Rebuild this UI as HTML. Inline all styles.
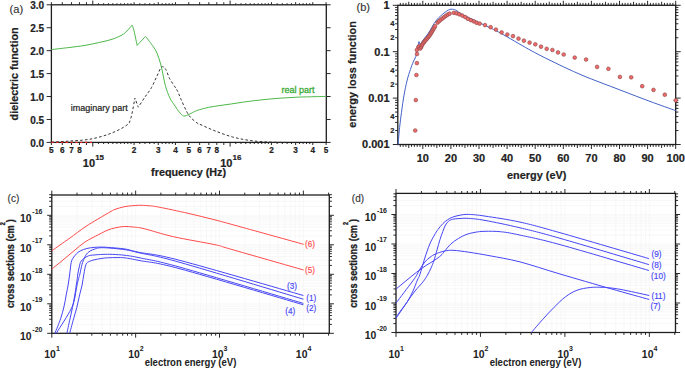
<!DOCTYPE html>
<html><head><meta charset="utf-8"><style>
html,body{margin:0;padding:0;background:#fff;overflow:hidden}
svg{display:block}
text{font-family:"Liberation Sans",sans-serif}
</style></head><body>
<svg width="685" height="369" viewBox="0 0 685 369">
<rect width="685" height="369" fill="#fff"/>
<path d="M51.4 142.4L51.4 145 M51.4 4.8L51.4 2.2 M62.28 142.4L62.28 145 M62.28 4.8L62.28 2.2 M71.47 142.4L71.47 145 M71.47 4.8L71.47 2.2 M79.44 142.4L79.44 145 M79.44 4.8L79.44 2.2 M86.46 142.4L86.46 145 M86.46 4.8L86.46 2.2 M92.75 142.4L92.75 146.6 M92.75 4.8L92.75 0.6 M134.09 142.4L134.09 145 M134.09 4.8L134.09 2.2 M158.28 142.4L158.28 145 M158.28 4.8L158.28 2.2 M175.44 142.4L175.44 145 M175.44 4.8L175.44 2.2 M188.75 142.4L188.75 145 M188.75 4.8L188.75 2.2 M199.63 142.4L199.63 145 M199.63 4.8L199.63 2.2 M208.82 142.4L208.82 145 M208.82 4.8L208.82 2.2 M216.79 142.4L216.79 145 M216.79 4.8L216.79 2.2 M223.81 142.4L223.81 145 M223.81 4.8L223.81 2.2 M98.43 142.4L98.43 144 M98.43 4.8L98.43 3.2 M103.62 142.4L103.62 144 M103.62 4.8L103.62 3.2 M108.4 142.4L108.4 144 M108.4 4.8L108.4 3.2 M112.82 142.4L112.82 144 M112.82 4.8L112.82 3.2 M116.93 142.4L116.93 144 M116.93 4.8L116.93 3.2 M120.78 142.4L120.78 144 M120.78 4.8L120.78 3.2 M124.4 142.4L124.4 144 M124.4 4.8L124.4 3.2 M127.81 142.4L127.81 144 M127.81 4.8L127.81 3.2 M131.03 142.4L131.03 144 M131.03 4.8L131.03 3.2 M139.78 142.4L139.78 144 M139.78 4.8L139.78 3.2 M144.97 142.4L144.97 144 M144.97 4.8L144.97 3.2 M149.74 142.4L149.74 144 M149.74 4.8L149.74 3.2 M154.16 142.4L154.16 144 M154.16 4.8L154.16 3.2 M162.13 142.4L162.13 144 M162.13 4.8L162.13 3.2 M165.75 142.4L165.75 144 M165.75 4.8L165.75 3.2 M169.15 142.4L169.15 144 M169.15 4.8L169.15 3.2 M172.38 142.4L172.38 144 M172.38 4.8L172.38 3.2 M230.1 142.4L230.1 146.6 M230.1 4.8L230.1 0.6 M271.44 142.4L271.44 145 M271.44 4.8L271.44 2.2 M295.63 142.4L295.63 145 M295.63 4.8L295.63 2.2 M312.79 142.4L312.79 145 M312.79 4.8L312.79 2.2 M326.1 142.4L326.1 145 M326.1 4.8L326.1 2.2 M235.78 142.4L235.78 144 M235.78 4.8L235.78 3.2 M240.97 142.4L240.97 144 M240.97 4.8L240.97 3.2 M245.75 142.4L245.75 144 M245.75 4.8L245.75 3.2 M250.17 142.4L250.17 144 M250.17 4.8L250.17 3.2 M254.28 142.4L254.28 144 M254.28 4.8L254.28 3.2 M258.13 142.4L258.13 144 M258.13 4.8L258.13 3.2 M261.75 142.4L261.75 144 M261.75 4.8L261.75 3.2 M265.16 142.4L265.16 144 M265.16 4.8L265.16 3.2 M268.38 142.4L268.38 144 M268.38 4.8L268.38 3.2 M277.13 142.4L277.13 144 M277.13 4.8L277.13 3.2 M282.32 142.4L282.32 144 M282.32 4.8L282.32 3.2 M287.09 142.4L287.09 144 M287.09 4.8L287.09 3.2 M291.51 142.4L291.51 144 M291.51 4.8L291.51 3.2 M299.48 142.4L299.48 144 M299.48 4.8L299.48 3.2 M303.1 142.4L303.1 144 M303.1 4.8L303.1 3.2 M306.5 142.4L306.5 144 M306.5 4.8L306.5 3.2 M309.73 142.4L309.73 144 M309.73 4.8L309.73 3.2 M46.6 142.4L51.4 142.4 M326.3 142.4L330.6 142.4 M46.6 119.47L51.4 119.47 M326.3 119.47L330.6 119.47 M46.6 96.53L51.4 96.53 M326.3 96.53L330.6 96.53 M46.6 73.6L51.4 73.6 M326.3 73.6L330.6 73.6 M46.6 50.66L51.4 50.66 M326.3 50.66L330.6 50.66 M46.6 27.73L51.4 27.73 M326.3 27.73L330.6 27.73 M46.6 4.79L51.4 4.79 M326.3 4.79L330.6 4.79" stroke="#2a2a2a" stroke-width="1" fill="none"/>
<text x="44.2" y="146.9" font-size="10" font-weight="bold" text-anchor="end" fill="#222" stroke="#222" stroke-width="0.2">0.0</text>
<text x="44.2" y="123.97" font-size="10" font-weight="bold" text-anchor="end" fill="#222" stroke="#222" stroke-width="0.2">0.5</text>
<text x="44.2" y="101.03" font-size="10" font-weight="bold" text-anchor="end" fill="#222" stroke="#222" stroke-width="0.2">1.0</text>
<text x="44.2" y="78.1" font-size="10" font-weight="bold" text-anchor="end" fill="#222" stroke="#222" stroke-width="0.2">1.5</text>
<text x="44.2" y="55.16" font-size="10" font-weight="bold" text-anchor="end" fill="#222" stroke="#222" stroke-width="0.2">2.0</text>
<text x="44.2" y="32.23" font-size="10" font-weight="bold" text-anchor="end" fill="#222" stroke="#222" stroke-width="0.2">2.5</text>
<text x="44.2" y="9.29" font-size="10" font-weight="bold" text-anchor="end" fill="#222" stroke="#222" stroke-width="0.2">3.0</text>
<rect x="51.4" y="4.8" width="274.9" height="137.6" fill="none" stroke="#1e1e1e" stroke-width="1.3"/>
<text x="51.4" y="152.9" font-size="8.2" font-weight="bold" text-anchor="middle" fill="#222" stroke="#222" stroke-width="0.2">5</text>
<text x="62.28" y="152.9" font-size="8.2" font-weight="bold" text-anchor="middle" fill="#222" stroke="#222" stroke-width="0.2">6</text>
<text x="71.47" y="152.9" font-size="8.2" font-weight="bold" text-anchor="middle" fill="#222" stroke="#222" stroke-width="0.2">7</text>
<text x="79.44" y="152.9" font-size="8.2" font-weight="bold" text-anchor="middle" fill="#222" stroke="#222" stroke-width="0.2">8</text>
<text x="134.09" y="152.9" font-size="8.2" font-weight="bold" text-anchor="middle" fill="#222" stroke="#222" stroke-width="0.2">2</text>
<text x="158.28" y="152.9" font-size="8.2" font-weight="bold" text-anchor="middle" fill="#222" stroke="#222" stroke-width="0.2">3</text>
<text x="175.44" y="152.9" font-size="8.2" font-weight="bold" text-anchor="middle" fill="#222" stroke="#222" stroke-width="0.2">4</text>
<text x="188.75" y="152.9" font-size="8.2" font-weight="bold" text-anchor="middle" fill="#222" stroke="#222" stroke-width="0.2">5</text>
<text x="199.63" y="152.9" font-size="8.2" font-weight="bold" text-anchor="middle" fill="#222" stroke="#222" stroke-width="0.2">6</text>
<text x="208.82" y="152.9" font-size="8.2" font-weight="bold" text-anchor="middle" fill="#222" stroke="#222" stroke-width="0.2">7</text>
<text x="216.79" y="152.9" font-size="8.2" font-weight="bold" text-anchor="middle" fill="#222" stroke="#222" stroke-width="0.2">8</text>
<text x="271.44" y="152.9" font-size="8.2" font-weight="bold" text-anchor="middle" fill="#222" stroke="#222" stroke-width="0.2">2</text>
<text x="295.63" y="152.9" font-size="8.2" font-weight="bold" text-anchor="middle" fill="#222" stroke="#222" stroke-width="0.2">3</text>
<text x="312.79" y="152.9" font-size="8.2" font-weight="bold" text-anchor="middle" fill="#222" stroke="#222" stroke-width="0.2">4</text>
<text x="326.1" y="152.9" font-size="8.2" font-weight="bold" text-anchor="middle" fill="#222" stroke="#222" stroke-width="0.2">5</text>
<text x="82.85" y="166.7" font-size="11" font-weight="bold" text-anchor="start" fill="#222" stroke="#222" stroke-width="0.2">10</text>
<text x="95.15" y="159.9" font-size="8" font-weight="bold" text-anchor="start" fill="#222" stroke="#222" stroke-width="0.2">15</text>
<text x="220.2" y="166.7" font-size="11" font-weight="bold" text-anchor="start" fill="#222" stroke="#222" stroke-width="0.2">10</text>
<text x="232.5" y="159.9" font-size="8" font-weight="bold" text-anchor="start" fill="#222" stroke="#222" stroke-width="0.2">16</text>
<text x="188.6" y="175.8" font-size="10.8" font-weight="bold" text-anchor="middle" fill="#222" stroke="#222" stroke-width="0.2">frequency (Hz)</text>
<text x="0" y="0" font-size="10.8" font-weight="bold" text-anchor="middle" fill="#222" transform="translate(17.7 73.9) rotate(-90)" stroke="#222" stroke-width="0.2">dielectric function</text>
<text x="9.6" y="12.5" font-size="11.2" text-anchor="start" fill="#333" stroke="#333" stroke-width="0.15">(a)</text>
<path d="M51.4 49.6 C54.5 49.23 64.4 48.1 70 47.4 C75.6 46.7 80.07 46.23 85 45.4 C89.93 44.57 95.1 43.42 99.6 42.4 C104.1 41.38 108.27 40.53 112 39.3 C115.73 38.07 119.52 36.38 122 35 C124.48 33.62 125.6 32.2 126.9 31 C128.2 29.8 128.92 28.78 129.8 27.8 C130.68 26.82 132.2 25.1 132.2 25.1 C132.2 25.1 133.28 27.72 134.1 31.1 C134.92 34.48 137.1 45.4 137.1 45.4 C137.1 45.4 145.5 36.4 145.5 36.4 C145.5 36.4 149.17 40.9 151 43.5 C152.83 46.1 154.8 48.22 156.5 52 C158.2 55.78 159.73 60.65 161.2 66.2 C162.67 71.75 163.85 80 165.3 85.3 C166.75 90.6 168.28 94.55 169.9 98 C171.52 101.45 173.47 103.7 175 106 C176.53 108.3 177.65 110.13 179.1 111.8 C180.55 113.47 181.97 115.62 183.7 116 C185.43 116.38 187.33 115 189.5 114.1 C191.67 113.2 193.55 111.72 196.7 110.6 C199.85 109.48 204.52 108.25 208.4 107.4 C212.28 106.55 216.12 106.08 220 105.5 C223.88 104.92 227.8 104.47 231.7 103.9 C235.6 103.33 239.5 102.65 243.4 102.1 C247.3 101.55 251.33 101.05 255.1 100.6 C258.87 100.15 262.37 99.77 266 99.4 C269.63 99.03 273.25 98.68 276.9 98.4 C280.55 98.12 284.25 97.92 287.9 97.7 C291.55 97.48 295.15 97.25 298.8 97.1 C302.45 96.95 305.22 96.92 309.8 96.8 C314.38 96.68 323.55 96.47 326.3 96.4" fill="none" stroke="#4db84a" stroke-width="1" />
<path d="M51.4 142.2 C54.5 142 63.57 141.5 70 141 C76.43 140.5 83.33 140.42 90 139.2 C96.67 137.98 103.98 135.97 110 133.7 C116.02 131.43 122.65 128.1 126.1 125.6 C129.55 123.1 129.23 123.3 130.7 118.7 C132.17 114.1 134.9 98 134.9 98 C134.9 98 138.3 107.2 138.3 107.2 C138.3 107.2 142.8 100.27 145 97 C147.2 93.73 149.5 91.1 151.5 87.6 C153.5 84.1 155.32 79.43 157 76 C158.68 72.57 160.15 68.12 161.6 67 C163.05 65.88 164.38 67.42 165.7 69.3 C167.02 71.18 167.97 75.38 169.5 78.3 C171.03 81.22 173.55 84.65 174.9 86.8 C176.25 88.95 176.58 89.12 177.6 91.2 C178.62 93.28 179.52 95.97 181 99.3 C182.48 102.63 184.92 108.2 186.5 111.2 C188.08 114.2 188.67 115.28 190.5 117.3 C192.33 119.32 195.75 122.05 197.5 123.3 C199.25 124.55 198.08 123.53 201 124.8 C203.92 126.07 209.73 128.87 215 130.9 C220.27 132.93 226.75 135.4 232.6 137 C238.45 138.6 244.27 139.67 250.1 140.5 C255.93 141.33 261.78 141.68 267.6 142 C273.42 142.32 282.1 142.33 285 142.4" fill="none" stroke="#333" stroke-width="1" stroke-dasharray="2.6 2.2"/>
<line x1="51.4" y1="142.3" x2="92.5" y2="142.3" stroke="#ee2222" stroke-width="1.3" stroke-dasharray="2.2 2.6"/>
<text x="281.5" y="92.6" font-size="9" text-anchor="start" fill="#3aaa35" stroke="#3aaa35" stroke-width="0.3">real part</text>
<text x="70.7" y="111.1" font-size="9" text-anchor="start" fill="#222" stroke="#222" stroke-width="0.2">imaginary part</text>
<path d="M400.32 144.5L400.32 146.9 M400.32 5.3L400.32 2.9 M403.13 144.5L403.13 146.9 M403.13 5.3L403.13 2.9 M405.94 144.5L405.94 146.9 M405.94 5.3L405.94 2.9 M408.75 144.5L408.75 148 M408.75 5.3L408.75 1.8 M411.56 144.5L411.56 146.9 M411.56 5.3L411.56 2.9 M414.37 144.5L414.37 146.9 M414.37 5.3L414.37 2.9 M417.18 144.5L417.18 146.9 M417.18 5.3L417.18 2.9 M419.99 144.5L419.99 146.9 M419.99 5.3L419.99 2.9 M422.8 144.5L422.8 149 M422.8 5.3L422.8 0.8 M425.61 144.5L425.61 146.9 M425.61 5.3L425.61 2.9 M428.42 144.5L428.42 146.9 M428.42 5.3L428.42 2.9 M431.23 144.5L431.23 146.9 M431.23 5.3L431.23 2.9 M434.04 144.5L434.04 146.9 M434.04 5.3L434.04 2.9 M436.85 144.5L436.85 148 M436.85 5.3L436.85 1.8 M439.66 144.5L439.66 146.9 M439.66 5.3L439.66 2.9 M442.47 144.5L442.47 146.9 M442.47 5.3L442.47 2.9 M445.28 144.5L445.28 146.9 M445.28 5.3L445.28 2.9 M448.09 144.5L448.09 146.9 M448.09 5.3L448.09 2.9 M450.9 144.5L450.9 149 M450.9 5.3L450.9 0.8 M453.71 144.5L453.71 146.9 M453.71 5.3L453.71 2.9 M456.52 144.5L456.52 146.9 M456.52 5.3L456.52 2.9 M459.33 144.5L459.33 146.9 M459.33 5.3L459.33 2.9 M462.14 144.5L462.14 146.9 M462.14 5.3L462.14 2.9 M464.95 144.5L464.95 148 M464.95 5.3L464.95 1.8 M467.76 144.5L467.76 146.9 M467.76 5.3L467.76 2.9 M470.57 144.5L470.57 146.9 M470.57 5.3L470.57 2.9 M473.38 144.5L473.38 146.9 M473.38 5.3L473.38 2.9 M476.19 144.5L476.19 146.9 M476.19 5.3L476.19 2.9 M479 144.5L479 149 M479 5.3L479 0.8 M481.81 144.5L481.81 146.9 M481.81 5.3L481.81 2.9 M484.62 144.5L484.62 146.9 M484.62 5.3L484.62 2.9 M487.43 144.5L487.43 146.9 M487.43 5.3L487.43 2.9 M490.24 144.5L490.24 146.9 M490.24 5.3L490.24 2.9 M493.05 144.5L493.05 148 M493.05 5.3L493.05 1.8 M495.86 144.5L495.86 146.9 M495.86 5.3L495.86 2.9 M498.67 144.5L498.67 146.9 M498.67 5.3L498.67 2.9 M501.48 144.5L501.48 146.9 M501.48 5.3L501.48 2.9 M504.29 144.5L504.29 146.9 M504.29 5.3L504.29 2.9 M507.1 144.5L507.1 149 M507.1 5.3L507.1 0.8 M509.91 144.5L509.91 146.9 M509.91 5.3L509.91 2.9 M512.72 144.5L512.72 146.9 M512.72 5.3L512.72 2.9 M515.53 144.5L515.53 146.9 M515.53 5.3L515.53 2.9 M518.34 144.5L518.34 146.9 M518.34 5.3L518.34 2.9 M521.15 144.5L521.15 148 M521.15 5.3L521.15 1.8 M523.96 144.5L523.96 146.9 M523.96 5.3L523.96 2.9 M526.77 144.5L526.77 146.9 M526.77 5.3L526.77 2.9 M529.58 144.5L529.58 146.9 M529.58 5.3L529.58 2.9 M532.39 144.5L532.39 146.9 M532.39 5.3L532.39 2.9 M535.2 144.5L535.2 149 M535.2 5.3L535.2 0.8 M538.01 144.5L538.01 146.9 M538.01 5.3L538.01 2.9 M540.82 144.5L540.82 146.9 M540.82 5.3L540.82 2.9 M543.63 144.5L543.63 146.9 M543.63 5.3L543.63 2.9 M546.44 144.5L546.44 146.9 M546.44 5.3L546.44 2.9 M549.25 144.5L549.25 148 M549.25 5.3L549.25 1.8 M552.06 144.5L552.06 146.9 M552.06 5.3L552.06 2.9 M554.87 144.5L554.87 146.9 M554.87 5.3L554.87 2.9 M557.68 144.5L557.68 146.9 M557.68 5.3L557.68 2.9 M560.49 144.5L560.49 146.9 M560.49 5.3L560.49 2.9 M563.3 144.5L563.3 149 M563.3 5.3L563.3 0.8 M566.11 144.5L566.11 146.9 M566.11 5.3L566.11 2.9 M568.92 144.5L568.92 146.9 M568.92 5.3L568.92 2.9 M571.73 144.5L571.73 146.9 M571.73 5.3L571.73 2.9 M574.54 144.5L574.54 146.9 M574.54 5.3L574.54 2.9 M577.35 144.5L577.35 148 M577.35 5.3L577.35 1.8 M580.16 144.5L580.16 146.9 M580.16 5.3L580.16 2.9 M582.97 144.5L582.97 146.9 M582.97 5.3L582.97 2.9 M585.78 144.5L585.78 146.9 M585.78 5.3L585.78 2.9 M588.59 144.5L588.59 146.9 M588.59 5.3L588.59 2.9 M591.4 144.5L591.4 149 M591.4 5.3L591.4 0.8 M594.21 144.5L594.21 146.9 M594.21 5.3L594.21 2.9 M597.02 144.5L597.02 146.9 M597.02 5.3L597.02 2.9 M599.83 144.5L599.83 146.9 M599.83 5.3L599.83 2.9 M602.64 144.5L602.64 146.9 M602.64 5.3L602.64 2.9 M605.45 144.5L605.45 148 M605.45 5.3L605.45 1.8 M608.26 144.5L608.26 146.9 M608.26 5.3L608.26 2.9 M611.07 144.5L611.07 146.9 M611.07 5.3L611.07 2.9 M613.88 144.5L613.88 146.9 M613.88 5.3L613.88 2.9 M616.69 144.5L616.69 146.9 M616.69 5.3L616.69 2.9 M619.5 144.5L619.5 149 M619.5 5.3L619.5 0.8 M622.31 144.5L622.31 146.9 M622.31 5.3L622.31 2.9 M625.12 144.5L625.12 146.9 M625.12 5.3L625.12 2.9 M627.93 144.5L627.93 146.9 M627.93 5.3L627.93 2.9 M630.74 144.5L630.74 146.9 M630.74 5.3L630.74 2.9 M633.55 144.5L633.55 148 M633.55 5.3L633.55 1.8 M636.36 144.5L636.36 146.9 M636.36 5.3L636.36 2.9 M639.17 144.5L639.17 146.9 M639.17 5.3L639.17 2.9 M641.98 144.5L641.98 146.9 M641.98 5.3L641.98 2.9 M644.79 144.5L644.79 146.9 M644.79 5.3L644.79 2.9 M647.6 144.5L647.6 149 M647.6 5.3L647.6 0.8 M650.41 144.5L650.41 146.9 M650.41 5.3L650.41 2.9 M653.22 144.5L653.22 146.9 M653.22 5.3L653.22 2.9 M656.03 144.5L656.03 146.9 M656.03 5.3L656.03 2.9 M658.84 144.5L658.84 146.9 M658.84 5.3L658.84 2.9 M661.65 144.5L661.65 148 M661.65 5.3L661.65 1.8 M664.46 144.5L664.46 146.9 M664.46 5.3L664.46 2.9 M667.27 144.5L667.27 146.9 M667.27 5.3L667.27 2.9 M670.08 144.5L670.08 146.9 M670.08 5.3L670.08 2.9 M672.89 144.5L672.89 146.9 M672.89 5.3L672.89 2.9 M675.7 144.5L675.7 149 M675.7 5.3L675.7 0.8 M392.8 144.5L397.8 144.5 M675.7 144.5L680.7 144.5 M395.1 130.53L397.8 130.53 M675.7 130.53L678.4 130.53 M395.1 122.36L397.8 122.36 M675.7 122.36L678.4 122.36 M395.1 116.56L397.8 116.56 M675.7 116.56L678.4 116.56 M395.1 112.07L397.8 112.07 M675.7 112.07L678.4 112.07 M395.1 108.39L397.8 108.39 M675.7 108.39L678.4 108.39 M395.1 105.29L397.8 105.29 M675.7 105.29L678.4 105.29 M395.1 102.6L397.8 102.6 M675.7 102.6L678.4 102.6 M395.1 100.22L397.8 100.22 M675.7 100.22L678.4 100.22 M392.8 98.1L397.8 98.1 M675.7 98.1L680.7 98.1 M395.1 84.13L397.8 84.13 M675.7 84.13L678.4 84.13 M395.1 75.96L397.8 75.96 M675.7 75.96L678.4 75.96 M395.1 70.16L397.8 70.16 M675.7 70.16L678.4 70.16 M395.1 65.67L397.8 65.67 M675.7 65.67L678.4 65.67 M395.1 61.99L397.8 61.99 M675.7 61.99L678.4 61.99 M395.1 58.89L397.8 58.89 M675.7 58.89L678.4 58.89 M395.1 56.2L397.8 56.2 M675.7 56.2L678.4 56.2 M395.1 53.82L397.8 53.82 M675.7 53.82L678.4 53.82 M392.8 51.7L397.8 51.7 M675.7 51.7L680.7 51.7 M395.1 37.73L397.8 37.73 M675.7 37.73L678.4 37.73 M395.1 29.56L397.8 29.56 M675.7 29.56L678.4 29.56 M395.1 23.76L397.8 23.76 M675.7 23.76L678.4 23.76 M395.1 19.27L397.8 19.27 M675.7 19.27L678.4 19.27 M395.1 15.59L397.8 15.59 M675.7 15.59L678.4 15.59 M395.1 12.49L397.8 12.49 M675.7 12.49L678.4 12.49 M395.1 9.8L397.8 9.8 M675.7 9.8L678.4 9.8 M395.1 7.42L397.8 7.42 M675.7 7.42L678.4 7.42 M392.8 5.3L397.8 5.3 M675.7 5.3L680.7 5.3" stroke="#2a2a2a" stroke-width="1" fill="none"/>
<rect x="397.8" y="5.3" width="277.9" height="139.2" fill="none" stroke="#1e1e1e" stroke-width="1.3"/>
<text x="389.6" y="9.2" font-size="11" font-weight="bold" text-anchor="end" fill="#222" stroke="#222" stroke-width="0.2">1</text>
<text x="389.6" y="55.6" font-size="11" font-weight="bold" text-anchor="end" fill="#222" stroke="#222" stroke-width="0.2">0.1</text>
<text x="389.6" y="102" font-size="11" font-weight="bold" text-anchor="end" fill="#222" stroke="#222" stroke-width="0.2">0.01</text>
<text x="389.6" y="148.4" font-size="11" font-weight="bold" text-anchor="end" fill="#222" stroke="#222" stroke-width="0.2">0.001</text>
<text x="394.4" y="133.23" font-size="7.5" font-weight="bold" text-anchor="end" fill="#222" stroke="#222" stroke-width="0.2">2</text>
<text x="394.4" y="119.26" font-size="7.5" font-weight="bold" text-anchor="end" fill="#222" stroke="#222" stroke-width="0.2">4</text>
<text x="394.4" y="86.83" font-size="7.5" font-weight="bold" text-anchor="end" fill="#222" stroke="#222" stroke-width="0.2">2</text>
<text x="394.4" y="72.86" font-size="7.5" font-weight="bold" text-anchor="end" fill="#222" stroke="#222" stroke-width="0.2">4</text>
<text x="394.4" y="40.43" font-size="7.5" font-weight="bold" text-anchor="end" fill="#222" stroke="#222" stroke-width="0.2">2</text>
<text x="394.4" y="26.46" font-size="7.5" font-weight="bold" text-anchor="end" fill="#222" stroke="#222" stroke-width="0.2">4</text>
<text x="422.8" y="161.9" font-size="11" font-weight="bold" text-anchor="middle" fill="#222" stroke="#222" stroke-width="0.2">10</text>
<text x="450.9" y="161.9" font-size="11" font-weight="bold" text-anchor="middle" fill="#222" stroke="#222" stroke-width="0.2">20</text>
<text x="479" y="161.9" font-size="11" font-weight="bold" text-anchor="middle" fill="#222" stroke="#222" stroke-width="0.2">30</text>
<text x="507.1" y="161.9" font-size="11" font-weight="bold" text-anchor="middle" fill="#222" stroke="#222" stroke-width="0.2">40</text>
<text x="535.2" y="161.9" font-size="11" font-weight="bold" text-anchor="middle" fill="#222" stroke="#222" stroke-width="0.2">50</text>
<text x="563.3" y="161.9" font-size="11" font-weight="bold" text-anchor="middle" fill="#222" stroke="#222" stroke-width="0.2">60</text>
<text x="591.4" y="161.9" font-size="11" font-weight="bold" text-anchor="middle" fill="#222" stroke="#222" stroke-width="0.2">70</text>
<text x="619.5" y="161.9" font-size="11" font-weight="bold" text-anchor="middle" fill="#222" stroke="#222" stroke-width="0.2">80</text>
<text x="647.6" y="161.9" font-size="11" font-weight="bold" text-anchor="middle" fill="#222" stroke="#222" stroke-width="0.2">90</text>
<text x="675.7" y="161.9" font-size="11" font-weight="bold" text-anchor="middle" fill="#222" stroke="#222" stroke-width="0.2">100</text>
<text x="536.7" y="179.2" font-size="10.9" font-weight="bold" text-anchor="middle" fill="#222" stroke="#222" stroke-width="0.2">energy (eV)</text>
<text x="0" y="0" font-size="10.9" font-weight="bold" text-anchor="middle" fill="#222" transform="translate(355.6 74.4) rotate(-90)" stroke="#222" stroke-width="0.2">energy loss function</text>
<text x="356.6" y="10.6" font-size="11" text-anchor="start" fill="#333" stroke="#333" stroke-width="0.15">(b)</text>
<path d="M398.1 144.6 C398.35 141.75 399.03 132.88 399.6 127.5 C400.17 122.12 400.77 117.68 401.5 112.3 C402.23 106.92 403.05 100.58 404 95.2 C404.95 89.82 406.13 84.28 407.2 80 C408.27 75.72 409.4 72.5 410.4 69.5 C411.4 66.5 412.3 64.17 413.2 62 C414.1 59.83 415.1 58.5 415.8 56.5 C416.5 54.5 416.88 52.45 417.4 50 C417.92 47.55 418.4 42.75 418.9 41.8 C419.4 40.85 419.8 44.43 420.4 44.3 C421 44.17 421.65 42.22 422.5 41 C423.35 39.78 424.5 38.33 425.5 37 C426.5 35.67 427.5 34.5 428.5 33 C429.5 31.5 430.58 29.58 431.5 28 C432.42 26.42 433.08 24.92 434 23.5 C434.92 22.08 435.92 20.75 437 19.5 C438.08 18.25 439.17 17.2 440.5 16 C441.83 14.8 443.67 13.3 445 12.3 C446.33 11.3 447.48 10.52 448.5 10 C449.52 9.48 450.27 9.3 451.1 9.2 C451.93 9.1 452.68 9.22 453.5 9.4 C454.32 9.58 454.5 9.43 456 10.3 C457.5 11.17 459.62 13.02 462.5 14.6 C465.38 16.18 470.6 18.5 473.3 19.8 C476 21.1 475.92 21.07 478.7 22.4 C481.48 23.73 486.27 25.97 490 27.8 C493.73 29.63 494.63 29.82 501.1 33.4 C507.57 36.98 520.65 44.82 528.8 49.3 C536.95 53.78 541.13 55.98 550 60.3 C558.87 64.62 570.35 70.27 582 75.2 C593.65 80.13 608.57 85.53 619.9 89.9 C631.23 94.27 640.7 97.95 650 101.4 C659.3 104.85 671.42 109.07 675.7 110.6" fill="none" stroke="#4262c8" stroke-width="1" />
<circle cx="415.2" cy="130.5" r="1.85" fill="#f26a6a" stroke="#8c4a4a" stroke-width="0.65"/>
<circle cx="415.8" cy="100.1" r="1.85" fill="#f26a6a" stroke="#8c4a4a" stroke-width="0.65"/>
<circle cx="416.4" cy="75" r="1.85" fill="#f26a6a" stroke="#8c4a4a" stroke-width="0.65"/>
<circle cx="416.9" cy="63.1" r="1.85" fill="#f26a6a" stroke="#8c4a4a" stroke-width="0.65"/>
<circle cx="417" cy="54" r="1.85" fill="#f26a6a" stroke="#8c4a4a" stroke-width="0.65"/>
<circle cx="416.8" cy="50" r="1.85" fill="#f26a6a" stroke="#8c4a4a" stroke-width="0.65"/>
<circle cx="418.3" cy="47.2" r="1.85" fill="#f26a6a" stroke="#8c4a4a" stroke-width="0.65"/>
<circle cx="419.3" cy="46.2" r="1.85" fill="#f26a6a" stroke="#8c4a4a" stroke-width="0.65"/>
<circle cx="420.2" cy="48.6" r="1.85" fill="#f26a6a" stroke="#8c4a4a" stroke-width="0.65"/>
<circle cx="421.2" cy="47" r="1.85" fill="#f26a6a" stroke="#8c4a4a" stroke-width="0.65"/>
<circle cx="421.6" cy="45.5" r="1.85" fill="#f26a6a" stroke="#8c4a4a" stroke-width="0.65"/>
<circle cx="422.3" cy="44.5" r="1.85" fill="#f26a6a" stroke="#8c4a4a" stroke-width="0.65"/>
<circle cx="423.24" cy="43.21" r="1.85" fill="#f26a6a" stroke="#8c4a4a" stroke-width="0.65"/>
<circle cx="424.18" cy="41.91" r="1.85" fill="#f26a6a" stroke="#8c4a4a" stroke-width="0.65"/>
<circle cx="425.18" cy="40.66" r="1.85" fill="#f26a6a" stroke="#8c4a4a" stroke-width="0.65"/>
<circle cx="426.24" cy="39.47" r="1.85" fill="#f26a6a" stroke="#8c4a4a" stroke-width="0.65"/>
<circle cx="427.31" cy="38.27" r="1.85" fill="#f26a6a" stroke="#8c4a4a" stroke-width="0.65"/>
<circle cx="428.33" cy="37.04" r="1.85" fill="#f26a6a" stroke="#8c4a4a" stroke-width="0.65"/>
<circle cx="429.33" cy="35.8" r="1.85" fill="#f26a6a" stroke="#8c4a4a" stroke-width="0.65"/>
<circle cx="430.19" cy="34.45" r="1.85" fill="#f26a6a" stroke="#8c4a4a" stroke-width="0.65"/>
<circle cx="431.05" cy="33.1" r="1.85" fill="#f26a6a" stroke="#8c4a4a" stroke-width="0.65"/>
<circle cx="431.88" cy="31.73" r="1.85" fill="#f26a6a" stroke="#8c4a4a" stroke-width="0.65"/>
<circle cx="432.69" cy="30.35" r="1.85" fill="#f26a6a" stroke="#8c4a4a" stroke-width="0.65"/>
<circle cx="433.47" cy="28.95" r="1.85" fill="#f26a6a" stroke="#8c4a4a" stroke-width="0.65"/>
<circle cx="434.25" cy="27.56" r="1.85" fill="#f26a6a" stroke="#8c4a4a" stroke-width="0.65"/>
<circle cx="435.09" cy="26.19" r="1.85" fill="#f26a6a" stroke="#8c4a4a" stroke-width="0.65"/>
<circle cx="437.6" cy="22.6" r="1.85" fill="#f26a6a" stroke="#8c4a4a" stroke-width="0.65"/>
<circle cx="439.15" cy="21.11" r="1.85" fill="#f26a6a" stroke="#8c4a4a" stroke-width="0.65"/>
<circle cx="440.75" cy="19.68" r="1.85" fill="#f26a6a" stroke="#8c4a4a" stroke-width="0.65"/>
<circle cx="442.48" cy="18.41" r="1.85" fill="#f26a6a" stroke="#8c4a4a" stroke-width="0.65"/>
<circle cx="444.2" cy="17.11" r="1.85" fill="#f26a6a" stroke="#8c4a4a" stroke-width="0.65"/>
<circle cx="445.93" cy="15.83" r="1.85" fill="#f26a6a" stroke="#8c4a4a" stroke-width="0.65"/>
<circle cx="447.7" cy="14.63" r="1.85" fill="#f26a6a" stroke="#8c4a4a" stroke-width="0.65"/>
<circle cx="449.59" cy="13.63" r="1.85" fill="#f26a6a" stroke="#8c4a4a" stroke-width="0.65"/>
<circle cx="453.8" cy="12.8" r="1.85" fill="#f26a6a" stroke="#8c4a4a" stroke-width="0.65"/>
<circle cx="456.5" cy="13.3" r="1.85" fill="#f26a6a" stroke="#8c4a4a" stroke-width="0.65"/>
<circle cx="459.2" cy="14.3" r="1.85" fill="#f26a6a" stroke="#8c4a4a" stroke-width="0.65"/>
<circle cx="462.3" cy="15.6" r="1.85" fill="#f26a6a" stroke="#8c4a4a" stroke-width="0.65"/>
<circle cx="465.2" cy="17.1" r="1.85" fill="#f26a6a" stroke="#8c4a4a" stroke-width="0.65"/>
<circle cx="467.9" cy="18.8" r="1.85" fill="#f26a6a" stroke="#8c4a4a" stroke-width="0.65"/>
<circle cx="470.9" cy="20.2" r="1.85" fill="#f26a6a" stroke="#8c4a4a" stroke-width="0.65"/>
<circle cx="473.9" cy="21.4" r="1.85" fill="#f26a6a" stroke="#8c4a4a" stroke-width="0.65"/>
<circle cx="476.6" cy="22.8" r="1.85" fill="#f26a6a" stroke="#8c4a4a" stroke-width="0.65"/>
<circle cx="479.6" cy="23.6" r="1.85" fill="#f26a6a" stroke="#8c4a4a" stroke-width="0.65"/>
<circle cx="485" cy="25.1" r="1.85" fill="#f26a6a" stroke="#8c4a4a" stroke-width="0.65"/>
<circle cx="490.6" cy="27.2" r="1.85" fill="#f26a6a" stroke="#8c4a4a" stroke-width="0.65"/>
<circle cx="495.9" cy="29.6" r="1.85" fill="#f26a6a" stroke="#8c4a4a" stroke-width="0.65"/>
<circle cx="501.6" cy="32.4" r="1.85" fill="#f26a6a" stroke="#8c4a4a" stroke-width="0.65"/>
<circle cx="507.3" cy="34.5" r="1.85" fill="#f26a6a" stroke="#8c4a4a" stroke-width="0.65"/>
<circle cx="513" cy="36.1" r="1.85" fill="#f26a6a" stroke="#8c4a4a" stroke-width="0.65"/>
<circle cx="518.5" cy="38.6" r="1.85" fill="#f26a6a" stroke="#8c4a4a" stroke-width="0.65"/>
<circle cx="523.9" cy="40.7" r="1.85" fill="#f26a6a" stroke="#8c4a4a" stroke-width="0.65"/>
<circle cx="529.6" cy="42.6" r="1.85" fill="#f26a6a" stroke="#8c4a4a" stroke-width="0.65"/>
<circle cx="535.3" cy="44.3" r="1.85" fill="#f26a6a" stroke="#8c4a4a" stroke-width="0.65"/>
<circle cx="541" cy="46.7" r="1.85" fill="#f26a6a" stroke="#8c4a4a" stroke-width="0.65"/>
<circle cx="546.7" cy="48.8" r="1.85" fill="#f26a6a" stroke="#8c4a4a" stroke-width="0.65"/>
<circle cx="552.4" cy="50" r="1.85" fill="#f26a6a" stroke="#8c4a4a" stroke-width="0.65"/>
<circle cx="558" cy="52.4" r="1.85" fill="#f26a6a" stroke="#8c4a4a" stroke-width="0.65"/>
<circle cx="563.7" cy="54.5" r="1.85" fill="#f26a6a" stroke="#8c4a4a" stroke-width="0.65"/>
<circle cx="574.7" cy="57.6" r="1.85" fill="#f26a6a" stroke="#8c4a4a" stroke-width="0.65"/>
<circle cx="586.1" cy="59.5" r="1.85" fill="#f26a6a" stroke="#8c4a4a" stroke-width="0.65"/>
<circle cx="597.1" cy="66.9" r="1.85" fill="#f26a6a" stroke="#8c4a4a" stroke-width="0.65"/>
<circle cx="608.4" cy="68.8" r="1.85" fill="#f26a6a" stroke="#8c4a4a" stroke-width="0.65"/>
<circle cx="619.9" cy="76.9" r="1.85" fill="#f26a6a" stroke="#8c4a4a" stroke-width="0.65"/>
<circle cx="631.2" cy="77.3" r="1.85" fill="#f26a6a" stroke="#8c4a4a" stroke-width="0.65"/>
<circle cx="642.2" cy="86.2" r="1.85" fill="#f26a6a" stroke="#8c4a4a" stroke-width="0.65"/>
<circle cx="653.5" cy="89.9" r="1.85" fill="#f26a6a" stroke="#8c4a4a" stroke-width="0.65"/>
<circle cx="664.8" cy="94.7" r="1.85" fill="#f26a6a" stroke="#8c4a4a" stroke-width="0.65"/>
<circle cx="675.7" cy="100.3" r="1.85" fill="#f26a6a" stroke="#8c4a4a" stroke-width="0.65"/>
<path d="M77.04 195V333.3 M91.81 195V333.3 M102.28 195V333.3 M110.41 195V333.3 M117.05 195V333.3 M122.66 195V333.3 M127.52 195V333.3 M131.81 195V333.3 M135.65 195V333.3 M160.89 195V333.3 M175.66 195V333.3 M186.13 195V333.3 M194.26 195V333.3 M200.9 195V333.3 M206.51 195V333.3 M211.37 195V333.3 M215.66 195V333.3 M219.5 195V333.3 M244.74 195V333.3 M259.51 195V333.3 M269.98 195V333.3 M278.11 195V333.3 M284.75 195V333.3 M290.36 195V333.3 M295.22 195V333.3 M299.51 195V333.3 M303.35 195V333.3 M328.59 195V333.3 M51.8 324.42H329.3 M51.8 319.22H329.3 M51.8 315.54H329.3 M51.8 312.68H329.3 M51.8 310.34H329.3 M51.8 308.37H329.3 M51.8 306.66H329.3 M51.8 305.15H329.3 M51.8 303.8H329.3 M51.8 294.92H329.3 M51.8 289.72H329.3 M51.8 286.04H329.3 M51.8 283.18H329.3 M51.8 280.84H329.3 M51.8 278.87H329.3 M51.8 277.16H329.3 M51.8 275.65H329.3 M51.8 274.3H329.3 M51.8 265.42H329.3 M51.8 260.22H329.3 M51.8 256.54H329.3 M51.8 253.68H329.3 M51.8 251.34H329.3 M51.8 249.37H329.3 M51.8 247.66H329.3 M51.8 246.15H329.3 M51.8 244.8H329.3 M51.8 235.92H329.3 M51.8 230.72H329.3 M51.8 227.04H329.3 M51.8 224.18H329.3 M51.8 221.84H329.3 M51.8 219.87H329.3 M51.8 218.16H329.3 M51.8 216.65H329.3 M51.8 215.3H329.3 M51.8 206.42H329.3 M51.8 201.22H329.3 M51.8 197.54H329.3" stroke="#f3f3f3" stroke-width="0.6" fill="none"/>
<path d="M51.8 333.3L51.8 337.7 M51.8 195L51.8 190.6 M77.04 333.3L77.04 335.7 M77.04 195L77.04 192.6 M91.81 333.3L91.81 335.7 M91.81 195L91.81 192.6 M102.28 333.3L102.28 335.7 M102.28 195L102.28 192.6 M110.41 333.3L110.41 335.7 M110.41 195L110.41 192.6 M117.05 333.3L117.05 335.7 M117.05 195L117.05 192.6 M122.66 333.3L122.66 335.7 M122.66 195L122.66 192.6 M127.52 333.3L127.52 335.7 M127.52 195L127.52 192.6 M131.81 333.3L131.81 335.7 M131.81 195L131.81 192.6 M135.65 333.3L135.65 337.7 M135.65 195L135.65 190.6 M160.89 333.3L160.89 335.7 M160.89 195L160.89 192.6 M175.66 333.3L175.66 335.7 M175.66 195L175.66 192.6 M186.13 333.3L186.13 335.7 M186.13 195L186.13 192.6 M194.26 333.3L194.26 335.7 M194.26 195L194.26 192.6 M200.9 333.3L200.9 335.7 M200.9 195L200.9 192.6 M206.51 333.3L206.51 335.7 M206.51 195L206.51 192.6 M211.37 333.3L211.37 335.7 M211.37 195L211.37 192.6 M215.66 333.3L215.66 335.7 M215.66 195L215.66 192.6 M219.5 333.3L219.5 337.7 M219.5 195L219.5 190.6 M244.74 333.3L244.74 335.7 M244.74 195L244.74 192.6 M259.51 333.3L259.51 335.7 M259.51 195L259.51 192.6 M269.98 333.3L269.98 335.7 M269.98 195L269.98 192.6 M278.11 333.3L278.11 335.7 M278.11 195L278.11 192.6 M284.75 333.3L284.75 335.7 M284.75 195L284.75 192.6 M290.36 333.3L290.36 335.7 M290.36 195L290.36 192.6 M295.22 333.3L295.22 335.7 M295.22 195L295.22 192.6 M299.51 333.3L299.51 335.7 M299.51 195L299.51 192.6 M303.35 333.3L303.35 337.7 M303.35 195L303.35 190.6 M328.59 333.3L328.59 335.7 M328.59 195L328.59 192.6 M47.2 333.3L51.8 333.3 M329.3 333.3L333.9 333.3 M49.2 324.42L51.8 324.42 M329.3 324.42L331.9 324.42 M49.2 319.22L51.8 319.22 M329.3 319.22L331.9 319.22 M49.2 315.54L51.8 315.54 M329.3 315.54L331.9 315.54 M49.2 312.68L51.8 312.68 M329.3 312.68L331.9 312.68 M49.2 310.34L51.8 310.34 M329.3 310.34L331.9 310.34 M49.2 308.37L51.8 308.37 M329.3 308.37L331.9 308.37 M49.2 306.66L51.8 306.66 M329.3 306.66L331.9 306.66 M49.2 305.15L51.8 305.15 M329.3 305.15L331.9 305.15 M47.2 303.8L51.8 303.8 M329.3 303.8L333.9 303.8 M49.2 294.92L51.8 294.92 M329.3 294.92L331.9 294.92 M49.2 289.72L51.8 289.72 M329.3 289.72L331.9 289.72 M49.2 286.04L51.8 286.04 M329.3 286.04L331.9 286.04 M49.2 283.18L51.8 283.18 M329.3 283.18L331.9 283.18 M49.2 280.84L51.8 280.84 M329.3 280.84L331.9 280.84 M49.2 278.87L51.8 278.87 M329.3 278.87L331.9 278.87 M49.2 277.16L51.8 277.16 M329.3 277.16L331.9 277.16 M49.2 275.65L51.8 275.65 M329.3 275.65L331.9 275.65 M47.2 274.3L51.8 274.3 M329.3 274.3L333.9 274.3 M49.2 265.42L51.8 265.42 M329.3 265.42L331.9 265.42 M49.2 260.22L51.8 260.22 M329.3 260.22L331.9 260.22 M49.2 256.54L51.8 256.54 M329.3 256.54L331.9 256.54 M49.2 253.68L51.8 253.68 M329.3 253.68L331.9 253.68 M49.2 251.34L51.8 251.34 M329.3 251.34L331.9 251.34 M49.2 249.37L51.8 249.37 M329.3 249.37L331.9 249.37 M49.2 247.66L51.8 247.66 M329.3 247.66L331.9 247.66 M49.2 246.15L51.8 246.15 M329.3 246.15L331.9 246.15 M47.2 244.8L51.8 244.8 M329.3 244.8L333.9 244.8 M49.2 235.92L51.8 235.92 M329.3 235.92L331.9 235.92 M49.2 230.72L51.8 230.72 M329.3 230.72L331.9 230.72 M49.2 227.04L51.8 227.04 M329.3 227.04L331.9 227.04 M49.2 224.18L51.8 224.18 M329.3 224.18L331.9 224.18 M49.2 221.84L51.8 221.84 M329.3 221.84L331.9 221.84 M49.2 219.87L51.8 219.87 M329.3 219.87L331.9 219.87 M49.2 218.16L51.8 218.16 M329.3 218.16L331.9 218.16 M49.2 216.65L51.8 216.65 M329.3 216.65L331.9 216.65 M47.2 215.3L51.8 215.3 M329.3 215.3L333.9 215.3 M49.2 206.42L51.8 206.42 M329.3 206.42L331.9 206.42 M49.2 201.22L51.8 201.22 M329.3 201.22L331.9 201.22 M49.2 197.54L51.8 197.54 M329.3 197.54L331.9 197.54 M49.2 194.68L51.8 194.68 M329.3 194.68L331.9 194.68" stroke="#2a2a2a" stroke-width="1" fill="none"/>
<rect x="51.8" y="195" width="277.5" height="138.3" fill="none" stroke="#1e1e1e" stroke-width="1.3"/>
<text x="31.6" y="222.2" font-size="10.4" font-weight="bold" text-anchor="end" fill="#222" >10</text>
<text x="32.3" y="213.7" font-size="7" font-weight="bold" text-anchor="start" fill="#222" >-16</text>
<text x="31.6" y="251.7" font-size="10.4" font-weight="bold" text-anchor="end" fill="#222" >10</text>
<text x="32.3" y="243.2" font-size="7" font-weight="bold" text-anchor="start" fill="#222" >-17</text>
<text x="31.6" y="281.2" font-size="10.4" font-weight="bold" text-anchor="end" fill="#222" >10</text>
<text x="32.3" y="272.7" font-size="7" font-weight="bold" text-anchor="start" fill="#222" >-18</text>
<text x="31.6" y="310.7" font-size="10.4" font-weight="bold" text-anchor="end" fill="#222" >10</text>
<text x="32.3" y="302.2" font-size="7" font-weight="bold" text-anchor="start" fill="#222" >-19</text>
<text x="31.6" y="340.2" font-size="10.4" font-weight="bold" text-anchor="end" fill="#222" >10</text>
<text x="32.3" y="331.7" font-size="7" font-weight="bold" text-anchor="start" fill="#222" >-20</text>
<text x="50.1" y="358.2" font-size="10.4" font-weight="bold" text-anchor="middle" fill="#222" >10</text>
<text x="55.9" y="351.4" font-size="7" font-weight="bold" text-anchor="start" fill="#222" >1</text>
<text x="133.95" y="358.2" font-size="10.4" font-weight="bold" text-anchor="middle" fill="#222" >10</text>
<text x="139.75" y="351.4" font-size="7" font-weight="bold" text-anchor="start" fill="#222" >2</text>
<text x="217.8" y="358.2" font-size="10.4" font-weight="bold" text-anchor="middle" fill="#222" >10</text>
<text x="223.6" y="351.4" font-size="7" font-weight="bold" text-anchor="start" fill="#222" >3</text>
<text x="301.65" y="358.2" font-size="10.4" font-weight="bold" text-anchor="middle" fill="#222" >10</text>
<text x="307.45" y="351.4" font-size="7" font-weight="bold" text-anchor="start" fill="#222" >4</text>
<path d="M51.8 250.8 C53.17 249.83 56.97 247.13 60 245 C63.03 242.87 65.83 241 70 238 C74.17 235 80.33 230.17 85 227 C89.67 223.83 93.67 221.6 98 219 C102.33 216.4 108.17 213 111 211.4 C113.83 209.8 112.67 210.2 115 209.4 C117.33 208.6 121.1 207.28 125 206.6 C128.9 205.92 134.57 205.45 138.4 205.3 C142.23 205.15 144.6 205.4 148 205.7 C151.4 206 152.13 205.83 158.8 207.1 C165.47 208.37 178.63 211.17 188 213.3 C197.37 215.43 206.33 217.67 215 219.9 C223.67 222.13 225.23 222.63 240 226.7 C254.77 230.77 293 241.37 303.6 244.3" fill="none" stroke="#ff4b4b" stroke-width="1" />
<path d="M51.8 269.1 C53.5 267.72 58.3 263.85 62 260.8 C65.7 257.75 70.17 253.93 74 250.8 C77.83 247.67 80.87 244.72 85 242 C89.13 239.28 94.97 236.5 98.8 234.5 C102.63 232.5 105.3 231.1 108 230 C110.7 228.9 112.37 228.48 115 227.9 C117.63 227.32 120.8 226.65 123.8 226.5 C126.8 226.35 129.6 226.63 133 227 C136.4 227.37 137.47 227.08 144.2 228.7 C150.93 230.32 161.6 234.03 173.4 236.7 C185.2 239.37 205.37 242.6 215 244.7 C224.63 246.8 216.43 245.08 231.2 249.3 C245.97 253.52 291.53 266.55 303.6 270" fill="none" stroke="#ff4b4b" stroke-width="1" />
<path d="M54.9 333.3 C55.85 330.88 59.07 323.33 60.6 318.8 C62.13 314.27 63.17 310.08 64.1 306.1 C65.03 302.12 65.5 298.58 66.2 294.9 C66.9 291.22 67.72 287.48 68.3 284 C68.88 280.52 69.22 277.58 69.7 274 C70.18 270.42 70.63 265.17 71.2 262.5 C71.77 259.83 72.23 259.45 73.1 258 C73.97 256.55 75.2 254.98 76.4 253.8 C77.6 252.62 78.57 251.78 80.3 250.9 C82.03 250.02 84.52 249.08 86.8 248.5 C89.08 247.92 91.63 247.63 94 247.4 C96.37 247.17 98.72 247.1 101 247.1 C103.28 247.1 103.7 247.08 107.7 247.4 C111.7 247.72 119.88 248.2 125 249 C130.12 249.8 129.23 250.3 138.4 252.2 C147.57 254.1 152.5 253.18 180 260.4 C207.5 267.62 282.83 289.65 303.4 295.5" fill="none" stroke="#4646f6" stroke-width="1" />
<path d="M56.3 333.3 C56.92 332.32 58.7 329.45 60 327.4 C61.3 325.35 62.77 323.13 64.1 321 C65.43 318.87 66.83 316.6 68 314.6 C69.17 312.6 70.23 310.77 71.1 309 C71.97 307.23 72.58 305.83 73.2 304 C73.82 302.17 74.32 300.33 74.8 298 C75.28 295.67 75.67 292.42 76.1 290 C76.53 287.58 76.98 285.42 77.4 283.5 C77.82 281.58 78.18 280.08 78.6 278.5 C79.02 276.92 79.33 276.33 79.9 274 C80.47 271.67 81.27 267.13 82 264.5 C82.73 261.87 83.37 260.13 84.3 258.2 C85.23 256.27 85.98 254.38 87.6 252.9 C89.22 251.42 91.45 250.17 94 249.3 C96.55 248.43 97.73 247.63 102.9 247.7 C108.07 247.77 118.82 248.82 125 249.7 C131.18 250.58 130.83 250.88 140 253 C149.17 255.12 152.77 254.7 180 262.4 C207.23 270.1 282.83 293.07 303.4 299.2" fill="none" stroke="#4646f6" stroke-width="1" />
<path d="M66.9 333.3 C67.37 331.12 68.77 324.5 69.7 320.2 C70.63 315.9 71.65 311.7 72.5 307.5 C73.35 303.3 74.17 298.75 74.8 295 C75.43 291.25 75.88 287.75 76.3 285 C76.72 282.25 77.05 280.33 77.3 278.5 C77.55 276.67 77.52 275.75 77.8 274 C78.08 272.25 78.58 269.88 79 268 C79.42 266.12 79.75 264.07 80.3 262.7 C80.85 261.33 81.63 260.55 82.3 259.8 C82.97 259.05 83.28 258.87 84.3 258.2 C85.32 257.53 86.78 256.33 88.4 255.8 C90.02 255.27 91.58 255.23 94 255 C96.42 254.77 99.83 254.5 102.9 254.4 C105.97 254.3 108.72 254.25 112.4 254.4 C116.08 254.55 120.4 254.72 125 255.3 C129.6 255.88 130.83 255.92 140 257.9 C149.17 259.88 152.77 259.62 180 267.2 C207.23 274.78 282.83 297.37 303.4 303.4" fill="none" stroke="#4646f6" stroke-width="1" />
<path d="M69.7 333.3 C70.28 331.12 72.02 324.5 73.2 320.2 C74.38 315.9 75.73 311.72 76.8 307.5 C77.87 303.28 78.72 298.65 79.6 294.9 C80.48 291.15 81.38 288.48 82.1 285 C82.82 281.52 83.25 277.45 83.9 274 C84.55 270.55 85.12 266.38 86 264.3 C86.88 262.22 87.87 262.23 89.2 261.5 C90.53 260.77 92.03 260.4 94 259.9 C95.97 259.4 98.72 258.85 101 258.5 C103.28 258.15 105.02 257.95 107.7 257.8 C110.38 257.65 114.22 257.58 117.1 257.6 C119.98 257.62 121.18 257.4 125 257.9 C128.82 258.4 130.83 258.78 140 260.6 C149.17 262.42 152.77 261.43 180 268.8 C207.23 276.17 282.83 298.8 303.4 304.8" fill="none" stroke="#4646f6" stroke-width="1" />
<text x="310.1" y="247.3" font-size="8.2" text-anchor="middle" fill="#ff4b4b" stroke="#ff4b4b" stroke-width="0.15">(6)</text>
<text x="310.1" y="272.9" font-size="8.2" text-anchor="middle" fill="#ff4b4b" stroke="#ff4b4b" stroke-width="0.15">(5)</text>
<text x="292" y="289.2" font-size="8.2" text-anchor="middle" fill="#4646f6" stroke="#4646f6" stroke-width="0.15">(3)</text>
<text x="311.2" y="301.2" font-size="8.2" text-anchor="middle" fill="#4646f6" stroke="#4646f6" stroke-width="0.15">(1)</text>
<text x="311.2" y="310.9" font-size="8.2" text-anchor="middle" fill="#4646f6" stroke="#4646f6" stroke-width="0.15">(2)</text>
<text x="290.2" y="314.2" font-size="8.2" text-anchor="middle" fill="#4646f6" stroke="#4646f6" stroke-width="0.15">(4)</text>
<text x="0" y="0" font-size="10" font-weight="bold" text-anchor="middle" fill="#222" transform="translate(190.5 365.8) scale(0.955 1)">electron energy (eV)</text>
<text x="0" y="0" font-size="10.4" font-weight="bold" text-anchor="middle" fill="#222" transform="translate(13.5 263.6) rotate(-90) scale(0.88 1)" stroke="#222" stroke-width="0.3">cross sections (cm<tspan font-size="6.3" dy="-8.6">2</tspan><tspan dy="8.6">)</tspan></text>
<text x="7.6" y="202.2" font-size="10" text-anchor="start" fill="#333" stroke="#333" stroke-width="0.15">(c)</text>
<path d="M421.42 193.4V332.5 M436.29 193.4V332.5 M446.84 193.4V332.5 M455.03 193.4V332.5 M461.71 193.4V332.5 M467.37 193.4V332.5 M472.27 193.4V332.5 M476.59 193.4V332.5 M480.45 193.4V332.5 M505.87 193.4V332.5 M520.74 193.4V332.5 M531.29 193.4V332.5 M539.48 193.4V332.5 M546.16 193.4V332.5 M551.82 193.4V332.5 M556.72 193.4V332.5 M561.04 193.4V332.5 M564.9 193.4V332.5 M590.32 193.4V332.5 M605.19 193.4V332.5 M615.74 193.4V332.5 M623.93 193.4V332.5 M630.61 193.4V332.5 M636.27 193.4V332.5 M641.17 193.4V332.5 M645.49 193.4V332.5 M649.35 193.4V332.5 M674.77 193.4V332.5 M396 323.62H675.5 M396 318.42H675.5 M396 314.74H675.5 M396 311.88H675.5 M396 309.54H675.5 M396 307.57H675.5 M396 305.86H675.5 M396 304.35H675.5 M396 303H675.5 M396 294.12H675.5 M396 288.92H675.5 M396 285.24H675.5 M396 282.38H675.5 M396 280.04H675.5 M396 278.07H675.5 M396 276.36H675.5 M396 274.85H675.5 M396 273.5H675.5 M396 264.62H675.5 M396 259.42H675.5 M396 255.74H675.5 M396 252.88H675.5 M396 250.54H675.5 M396 248.57H675.5 M396 246.86H675.5 M396 245.35H675.5 M396 244H675.5 M396 235.12H675.5 M396 229.92H675.5 M396 226.24H675.5 M396 223.38H675.5 M396 221.04H675.5 M396 219.07H675.5 M396 217.36H675.5 M396 215.85H675.5 M396 214.5H675.5 M396 205.62H675.5 M396 200.42H675.5 M396 196.74H675.5" stroke="#f3f3f3" stroke-width="0.6" fill="none"/>
<path d="M396 332.5L396 336.9 M396 193.4L396 189 M421.42 332.5L421.42 334.9 M421.42 193.4L421.42 191 M436.29 332.5L436.29 334.9 M436.29 193.4L436.29 191 M446.84 332.5L446.84 334.9 M446.84 193.4L446.84 191 M455.03 332.5L455.03 334.9 M455.03 193.4L455.03 191 M461.71 332.5L461.71 334.9 M461.71 193.4L461.71 191 M467.37 332.5L467.37 334.9 M467.37 193.4L467.37 191 M472.27 332.5L472.27 334.9 M472.27 193.4L472.27 191 M476.59 332.5L476.59 334.9 M476.59 193.4L476.59 191 M480.45 332.5L480.45 336.9 M480.45 193.4L480.45 189 M505.87 332.5L505.87 334.9 M505.87 193.4L505.87 191 M520.74 332.5L520.74 334.9 M520.74 193.4L520.74 191 M531.29 332.5L531.29 334.9 M531.29 193.4L531.29 191 M539.48 332.5L539.48 334.9 M539.48 193.4L539.48 191 M546.16 332.5L546.16 334.9 M546.16 193.4L546.16 191 M551.82 332.5L551.82 334.9 M551.82 193.4L551.82 191 M556.72 332.5L556.72 334.9 M556.72 193.4L556.72 191 M561.04 332.5L561.04 334.9 M561.04 193.4L561.04 191 M564.9 332.5L564.9 336.9 M564.9 193.4L564.9 189 M590.32 332.5L590.32 334.9 M590.32 193.4L590.32 191 M605.19 332.5L605.19 334.9 M605.19 193.4L605.19 191 M615.74 332.5L615.74 334.9 M615.74 193.4L615.74 191 M623.93 332.5L623.93 334.9 M623.93 193.4L623.93 191 M630.61 332.5L630.61 334.9 M630.61 193.4L630.61 191 M636.27 332.5L636.27 334.9 M636.27 193.4L636.27 191 M641.17 332.5L641.17 334.9 M641.17 193.4L641.17 191 M645.49 332.5L645.49 334.9 M645.49 193.4L645.49 191 M649.35 332.5L649.35 336.9 M649.35 193.4L649.35 189 M674.77 332.5L674.77 334.9 M674.77 193.4L674.77 191 M391.4 332.5L396 332.5 M675.5 332.5L680.1 332.5 M393.4 323.62L396 323.62 M675.5 323.62L678.1 323.62 M393.4 318.42L396 318.42 M675.5 318.42L678.1 318.42 M393.4 314.74L396 314.74 M675.5 314.74L678.1 314.74 M393.4 311.88L396 311.88 M675.5 311.88L678.1 311.88 M393.4 309.54L396 309.54 M675.5 309.54L678.1 309.54 M393.4 307.57L396 307.57 M675.5 307.57L678.1 307.57 M393.4 305.86L396 305.86 M675.5 305.86L678.1 305.86 M393.4 304.35L396 304.35 M675.5 304.35L678.1 304.35 M391.4 303L396 303 M675.5 303L680.1 303 M393.4 294.12L396 294.12 M675.5 294.12L678.1 294.12 M393.4 288.92L396 288.92 M675.5 288.92L678.1 288.92 M393.4 285.24L396 285.24 M675.5 285.24L678.1 285.24 M393.4 282.38L396 282.38 M675.5 282.38L678.1 282.38 M393.4 280.04L396 280.04 M675.5 280.04L678.1 280.04 M393.4 278.07L396 278.07 M675.5 278.07L678.1 278.07 M393.4 276.36L396 276.36 M675.5 276.36L678.1 276.36 M393.4 274.85L396 274.85 M675.5 274.85L678.1 274.85 M391.4 273.5L396 273.5 M675.5 273.5L680.1 273.5 M393.4 264.62L396 264.62 M675.5 264.62L678.1 264.62 M393.4 259.42L396 259.42 M675.5 259.42L678.1 259.42 M393.4 255.74L396 255.74 M675.5 255.74L678.1 255.74 M393.4 252.88L396 252.88 M675.5 252.88L678.1 252.88 M393.4 250.54L396 250.54 M675.5 250.54L678.1 250.54 M393.4 248.57L396 248.57 M675.5 248.57L678.1 248.57 M393.4 246.86L396 246.86 M675.5 246.86L678.1 246.86 M393.4 245.35L396 245.35 M675.5 245.35L678.1 245.35 M391.4 244L396 244 M675.5 244L680.1 244 M393.4 235.12L396 235.12 M675.5 235.12L678.1 235.12 M393.4 229.92L396 229.92 M675.5 229.92L678.1 229.92 M393.4 226.24L396 226.24 M675.5 226.24L678.1 226.24 M393.4 223.38L396 223.38 M675.5 223.38L678.1 223.38 M393.4 221.04L396 221.04 M675.5 221.04L678.1 221.04 M393.4 219.07L396 219.07 M675.5 219.07L678.1 219.07 M393.4 217.36L396 217.36 M675.5 217.36L678.1 217.36 M393.4 215.85L396 215.85 M675.5 215.85L678.1 215.85 M391.4 214.5L396 214.5 M675.5 214.5L680.1 214.5 M393.4 205.62L396 205.62 M675.5 205.62L678.1 205.62 M393.4 200.42L396 200.42 M675.5 200.42L678.1 200.42 M393.4 196.74L396 196.74 M675.5 196.74L678.1 196.74 M393.4 193.88L396 193.88 M675.5 193.88L678.1 193.88" stroke="#2a2a2a" stroke-width="1" fill="none"/>
<rect x="396" y="193.4" width="279.5" height="139.1" fill="none" stroke="#1e1e1e" stroke-width="1.3"/>
<text x="376.2" y="221.4" font-size="10.4" font-weight="bold" text-anchor="end" fill="#222" >10</text>
<text x="376.9" y="212.9" font-size="7" font-weight="bold" text-anchor="start" fill="#222" >-16</text>
<text x="376.2" y="250.9" font-size="10.4" font-weight="bold" text-anchor="end" fill="#222" >10</text>
<text x="376.9" y="242.4" font-size="7" font-weight="bold" text-anchor="start" fill="#222" >-17</text>
<text x="376.2" y="280.4" font-size="10.4" font-weight="bold" text-anchor="end" fill="#222" >10</text>
<text x="376.9" y="271.9" font-size="7" font-weight="bold" text-anchor="start" fill="#222" >-18</text>
<text x="376.2" y="309.9" font-size="10.4" font-weight="bold" text-anchor="end" fill="#222" >10</text>
<text x="376.9" y="301.4" font-size="7" font-weight="bold" text-anchor="start" fill="#222" >-19</text>
<text x="376.2" y="339.4" font-size="10.4" font-weight="bold" text-anchor="end" fill="#222" >10</text>
<text x="376.9" y="330.9" font-size="7" font-weight="bold" text-anchor="start" fill="#222" >-20</text>
<text x="394.3" y="358.2" font-size="10.4" font-weight="bold" text-anchor="middle" fill="#222" >10</text>
<text x="400.1" y="351.4" font-size="7" font-weight="bold" text-anchor="start" fill="#222" >1</text>
<text x="478.75" y="358.2" font-size="10.4" font-weight="bold" text-anchor="middle" fill="#222" >10</text>
<text x="484.55" y="351.4" font-size="7" font-weight="bold" text-anchor="start" fill="#222" >2</text>
<text x="563.2" y="358.2" font-size="10.4" font-weight="bold" text-anchor="middle" fill="#222" >10</text>
<text x="569" y="351.4" font-size="7" font-weight="bold" text-anchor="start" fill="#222" >3</text>
<text x="647.65" y="358.2" font-size="10.4" font-weight="bold" text-anchor="middle" fill="#222" >10</text>
<text x="653.45" y="351.4" font-size="7" font-weight="bold" text-anchor="start" fill="#222" >4</text>
<path d="M396 317 C397 315.67 400.07 311.62 402 309 C403.93 306.38 405.77 304.3 407.6 301.3 C409.43 298.3 411.37 294.55 413 291 C414.63 287.45 416.25 282.75 417.4 280 C418.55 277.25 418.72 278 419.9 274.5 C421.08 271 422.85 264.08 424.5 259 C426.15 253.92 428.13 248 429.8 244 C431.47 240 433.13 237.42 434.5 235 C435.87 232.58 436.62 231.38 438 229.5 C439.38 227.62 441.22 225.32 442.8 223.7 C444.38 222.08 445.88 220.88 447.5 219.8 C449.12 218.72 450.42 217.97 452.5 217.2 C454.58 216.43 457.28 215.67 460 215.2 C462.72 214.73 464.63 214.25 468.8 214.4 C472.97 214.55 476.47 214.82 485 216.1 C493.53 217.38 507.5 219.33 520 222.1 C532.5 224.87 538.52 226.62 560 232.7 C581.48 238.78 634.08 254.28 648.9 258.6" fill="none" stroke="#4646f6" stroke-width="1" />
<path d="M396 318.4 C397 316.92 400.07 312.35 402 309.5 C403.93 306.65 405.43 304.38 407.6 301.3 C409.77 298.22 412.43 294.25 415 291 C417.57 287.75 420.92 284.47 423 281.8 C425.08 279.13 426.17 277.3 427.5 275 C428.83 272.7 429.92 270.42 431 268 C432.08 265.58 433 263.5 434 260.5 C435 257.5 436 253.5 437 250 C438 246.5 439.03 242.58 440 239.5 C440.97 236.42 441.88 233.92 442.8 231.5 C443.72 229.08 444.55 226.7 445.5 225 C446.45 223.3 447.33 222.25 448.5 221.3 C449.67 220.35 450.58 219.77 452.5 219.3 C454.42 218.83 457.28 218.65 460 218.5 C462.72 218.35 464.63 218.08 468.8 218.4 C472.97 218.72 476.47 218.83 485 220.4 C493.53 221.97 507.5 224.82 520 227.8 C532.5 230.78 538.52 232.17 560 238.3 C581.48 244.43 634.08 260.22 648.9 264.6" fill="none" stroke="#4646f6" stroke-width="1" />
<path d="M396 303.2 C397.33 301.42 401.15 296.28 404 292.5 C406.85 288.72 411.02 283.33 413.1 280.5 C415.18 277.67 415.35 277.42 416.5 275.5 C417.65 273.58 418.62 271.23 420 269 C421.38 266.77 423.13 264.05 424.8 262.1 C426.47 260.15 428.2 258.65 430 257.3 C431.8 255.95 433.22 255.03 435.6 254 C437.98 252.97 441.4 251.72 444.3 251.1 C447.2 250.48 448.92 250.12 453 250.3 C457.08 250.48 462.63 251.28 468.8 252.2 C474.97 253.12 481.47 254.18 490 255.8 C498.53 257.42 508.33 258.87 520 261.9 C531.67 264.93 544.83 269.52 560 274 C575.17 278.48 596.12 284.55 611 288.8 C625.88 293.05 642.92 297.72 649.3 299.5" fill="none" stroke="#4646f6" stroke-width="1" />
<path d="M396 289.1 C397.83 287.58 403.58 282.8 407 280 C410.42 277.2 413.37 274.7 416.5 272.3 C419.63 269.9 422.8 267.6 425.8 265.6 C428.8 263.6 431.97 262 434.5 260.3 C437.03 258.6 439.37 256.85 441 255.4 C442.63 253.95 442.67 253.5 444.3 251.6 C445.93 249.7 448.45 246.18 450.8 244 C453.15 241.82 455.87 240.07 458.4 238.5 C460.93 236.93 463.23 235.63 466 234.6 C468.77 233.57 471.83 232.85 475 232.3 C478.17 231.75 480.62 231.38 485 231.3 C489.38 231.22 495.47 231.17 501.3 231.8 C507.13 232.43 510.22 232.97 520 235.1 C529.78 237.23 538.52 238.7 560 244.6 C581.48 250.5 634.08 266.18 648.9 270.5" fill="none" stroke="#4646f6" stroke-width="1" />
<path d="M531.4 332.5 C533.3 330.3 539 323.52 542.8 319.3 C546.6 315.08 550.42 310.95 554.2 307.2 C557.98 303.45 561.72 299.62 565.5 296.8 C569.28 293.98 572.78 291.85 576.9 290.3 C581.02 288.75 585.77 287.98 590.2 287.5 C594.63 287.02 598.53 287.1 603.5 287.4 C608.47 287.7 612.37 287.95 620 289.3 C627.63 290.65 644.42 294.47 649.3 295.5" fill="none" stroke="#4646f6" stroke-width="1" />
<text x="656.6" y="257.2" font-size="8.2" text-anchor="middle" fill="#4646f6" stroke="#4646f6" stroke-width="0.15">(9)</text>
<text x="656.6" y="268.3" font-size="8.2" text-anchor="middle" fill="#4646f6" stroke="#4646f6" stroke-width="0.15">(8)</text>
<text x="658.4" y="279" font-size="8.2" text-anchor="middle" fill="#4646f6" stroke="#4646f6" stroke-width="0.15">(10)</text>
<text x="658.4" y="299" font-size="8.2" text-anchor="middle" fill="#4646f6" stroke="#4646f6" stroke-width="0.15">(11)</text>
<text x="655.6" y="308.8" font-size="8.2" text-anchor="middle" fill="#4646f6" stroke="#4646f6" stroke-width="0.15">(7)</text>
<text x="0" y="0" font-size="10" font-weight="bold" text-anchor="middle" fill="#222" transform="translate(535.5 365.8) scale(0.955 1)">electron energy (eV)</text>
<text x="0" y="0" font-size="10.4" font-weight="bold" text-anchor="middle" fill="#222" transform="translate(356.9 263.4) rotate(-90) scale(0.88 1)" stroke="#222" stroke-width="0.3">cross sections (cm<tspan font-size="6.3" dy="-8.6">2</tspan><tspan dy="8.6">)</tspan></text>
<text x="351.8" y="201.8" font-size="10" text-anchor="start" fill="#333" stroke="#333" stroke-width="0.15">(d)</text>
</svg>
</body></html>
